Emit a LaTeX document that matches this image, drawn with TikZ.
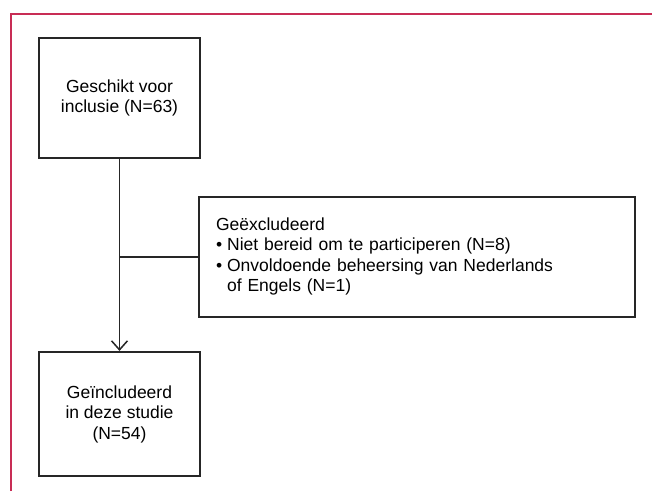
\documentclass[tikz,border=0pt]{standalone}
\usepackage{fontspec}
\setmainfont{Liberation Sans}
\usetikzlibrary{arrows.meta}

\definecolor{framered}{RGB}{200,45,85}

\tikzset{
  flow/.style={
    every node/.style={font=\fontsize{17.5}{20.5}\selectfont},
    box/.style={draw=black!85,line width=2.2pt,inner sep=0pt},
    link/.style={draw=black!85,line width=1.9pt},
  }
}

\begin{document}
\begin{tikzpicture}[x=1pt, y=-1pt, flow]
        \useasboundingbox (0,0) rectangle (652,491);
        \tikzstyle{frame}=[draw=framered,line width=1.5pt]

        \node[box,minimum width=161pt,minimum height=120pt,align=center] (F_1) at (119.5,98)  {Geschikt voor\\inclusie (N=63)};
        \node[box,minimum width=436pt,minimum height=120pt,text width=402pt,inner xsep=17pt,align=left] (F_2) at (417,257)  {\begin{tabular}{@{}l@{\hspace{5pt}}l@{}}
            \multicolumn{2}{@{}l}{Geëxcludeerd}\\
            \textbullet & Niet bereid om te participeren (N=8)\\
            \textbullet & Onvoldoende beheersing van Nederlands\\
             & of Engels (N=1)
          \end{tabular}};
        \node[box,minimum width=161pt,minimum height=124pt,align=center] (F_3) at (119.5,414)  {Geïncludeerd\\in deze studie\\(N=54)};
        \coordinate (J) at (F_1.south |- F_2.west);

        \draw[frame] (11,491) -- (11,14) -- (652,14);
        \draw[link,-{Straight Barb[length=9pt,width=16pt,line width=1.5pt]}] (F_1.south) -- (F_3.north);
        \draw[link] (J) -- (F_2.west);
\end{tikzpicture}
\end{document}
